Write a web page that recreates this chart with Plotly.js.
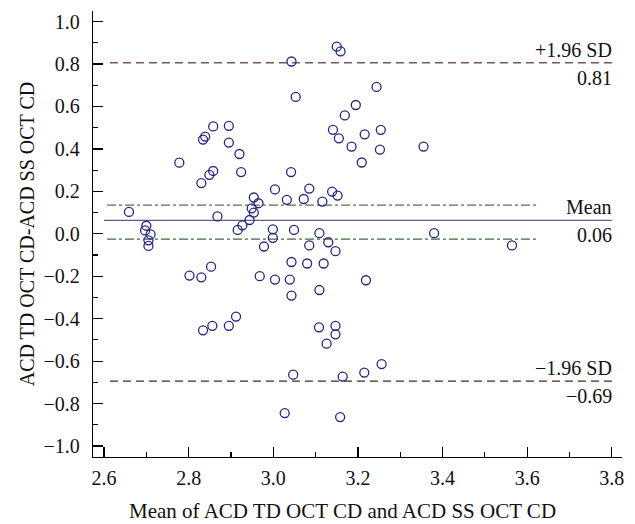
<!DOCTYPE html>
<html>
<head>
<meta charset="utf-8">
<script src="https://cdn.plot.ly/plotly-3.0.1.min.js"></script>
<style>html,body{margin:0;padding:0;background:#fff;}#chart{width:635px;height:524px;}</style>
</head>
<body>
<div id="chart"></div>
<script>
// Bland-Altman data: mean of the two methods (x) and difference (y)
const meanVals = [
  2.659, 2.778, 2.830, 2.849, 2.858, 2.834, 2.839, 2.858, 2.895, 2.895,
  2.920, 2.924, 2.868, 2.700, 2.697, 2.710, 2.705, 2.705, 2.916, 2.927,
  2.944, 2.954, 2.949, 2.954, 2.965, 2.802, 2.830, 2.853, 2.834, 2.856,
  2.895, 2.912, 2.968, 2.978, 2.999, 2.999, 3.049, 3.109, 3.085, 3.130,
  3.147, 3.043, 3.080, 3.119, 3.004, 3.039, 3.043, 3.109, 3.219, 3.108,
  3.147, 3.147, 3.126, 3.047, 3.164, 3.215, 3.256, 3.027, 3.158, 3.380,
  3.564, 3.150, 3.159, 3.043, 3.053, 3.244, 3.195, 3.169, 3.141, 3.155,
  3.216, 3.254, 3.185, 3.252, 3.209, 3.355, 3.042, 3.004, 3.085, 3.032,
  3.072, 3.116, 3.139, 3.152
];
const diffVals = [
  0.103, 0.335, 0.239, 0.278, 0.296, 0.444, 0.458, 0.506, 0.509, 0.430,
  0.376, 0.291, 0.082, 0.038, 0.016, -0.003, -0.031, -0.057, 0.018, 0.040,
  0.065, 0.100, 0.120, 0.171, 0.144, -0.197, -0.205, -0.155, -0.455, -0.434,
  -0.434, -0.390, -0.200, -0.060, 0.021, -0.019, 0.018, 0.003, -0.055, -0.040,
  -0.082, -0.133, -0.140, -0.140, -0.216, -0.216, -0.291, -0.265, -0.219, -0.441,
  -0.434, -0.474, -0.518, -0.664, -0.673, -0.654, -0.614, -0.845, -0.864, 0.003,
  -0.055, 0.882, 0.860, 0.812, 0.645, 0.692, 0.607, 0.558, 0.490, 0.450,
  0.469, 0.490, 0.411, 0.397, 0.336, 0.411, 0.291, 0.209, 0.213, 0.160,
  0.164, 0.152, 0.199, 0.180
];
// Reference lines
const meanDiff = 0.063;
const upperLoA = 0.806;
const lowerLoA = -0.694;
const ciMeanUpper = 0.135;
const ciMeanLower = -0.025;
const loaSpan = [2.614, 3.803];
const meanSpan = [2.6, 3.8];
const ciSpan = [2.607, 3.628];
const labels = {upperName: "+1.96 SD", upperVal: "0.81", meanName: "Mean", meanVal: "0.06", lowerName: "\u22121.96 SD", lowerVal: "\u22120.69"};
const xTitle = "Mean of ACD TD OCT CD and ACD SS OCT CD";
const yTitle = "ACD TD OCT CD-ACD SS OCT CD";
const xTickVals = [2.6, 2.8, 3.0, 3.2, 3.4, 3.6, 3.8];
const yTickVals = [-1.0, -0.8, -0.6, -0.4, -0.2, 0.0, 0.2, 0.4, 0.6, 0.8, 1.0];

const FONT = "Liberation Serif";
const FS = 20;

const traces = [
  {x: ciSpan, y: [ciMeanUpper, ciMeanUpper], mode: "lines", line: {color: "#4f7350", width: 1.1, dash: "dashdot"}, hoverinfo: "skip"},
  {x: ciSpan, y: [ciMeanLower, ciMeanLower], mode: "lines", line: {color: "#3f6b3f", width: 1.1, dash: "dashdot"}, hoverinfo: "skip"},
  {x: loaSpan, y: [upperLoA, upperLoA], mode: "lines", line: {color: "#7a5560", width: 1.3, dash: "8px,5px"}, hoverinfo: "skip"},
  {x: loaSpan, y: [lowerLoA, lowerLoA], mode: "lines", line: {color: "#4e2424", width: 1.3, dash: "8px,5px"}, hoverinfo: "skip"},
  {x: meanSpan, y: [meanDiff, meanDiff], mode: "lines", line: {color: "#5c5c96", width: 1.4}, hoverinfo: "skip"},
  {x: meanVals, y: diffVals, mode: "markers", type: "scatter",
   marker: {symbol: "circle-open", size: 9, color: "#262680", line: {width: 1.3, color: "#262680"}}}
];

function ann(text, y, anchor, shift) {
  return {x: 3.8, y: y, xref: "x", yref: "y", text: text, showarrow: false,
          xanchor: "right", yanchor: anchor, yshift: shift, xshift: 2,
          font: {family: FONT, size: FS, color: "#111"}};
}

const layout = {
  width: 635, height: 524,
  margin: {l: 93, r: 13, t: 11, b: 67},
  paper_bgcolor: "#fff", plot_bgcolor: "#fff",
  showlegend: false,
  font: {family: FONT, size: FS, color: "#111"},
  xaxis: {
    range: [2.574, 3.824], showline: true, linecolor: "#000", linewidth: 1.3,
    ticks: "inside", ticklen: 10, tickwidth: 1.2, tickcolor: "#000",
    tickvals: xTickVals, tickformat: ".1f", showgrid: false, zeroline: false,
    ticklabelstandoff: 3,
    minor: {ticks: "inside", ticklen: 5, tickwidth: 1.2, tickcolor: "#000", dtick: 0.1, tick0: 2.6, showgrid: false},
    tickfont: {family: FONT, size: FS, color: "#111"}
  },
  yaxis: {
    range: [-1.052, 1.05], showline: true, linecolor: "#000", linewidth: 1.3,
    ticks: "inside", ticklen: 10, tickwidth: 1.2, tickcolor: "#000",
    tickvals: yTickVals, tickformat: ".1f", showgrid: false, zeroline: false,
    ticklabelstandoff: 8,
    minor: {ticks: "inside", ticklen: 5, tickwidth: 1.2, tickcolor: "#000", dtick: 0.1, tick0: 0, showgrid: false},
    tickfont: {family: FONT, size: FS, color: "#111"},
    title: {text: yTitle, font: {family: FONT, size: 20, color: "#111"}, standoff: 3}
  },
  annotations: [
    ann(labels.upperName, upperLoA, "bottom", 0),
    ann(labels.upperVal, upperLoA, "top", -2),
    ann(labels.meanName, meanDiff, "bottom", 0),
    ann(labels.meanVal, meanDiff, "top", -2),
    ann(labels.lowerName, lowerLoA, "bottom", 0),
    ann(labels.lowerVal, lowerLoA, "top", -2),
    {x: 0.4707, y: -0.121, xref: "paper", yref: "paper", text: xTitle, showarrow: false,
     xanchor: "center", yanchor: "middle", font: {family: FONT, size: 21, color: "#111"}}
  ]
};

Plotly.newPlot("chart", traces, layout, {staticPlot: true, displayModeBar: false});
</script>
</body>
</html>
